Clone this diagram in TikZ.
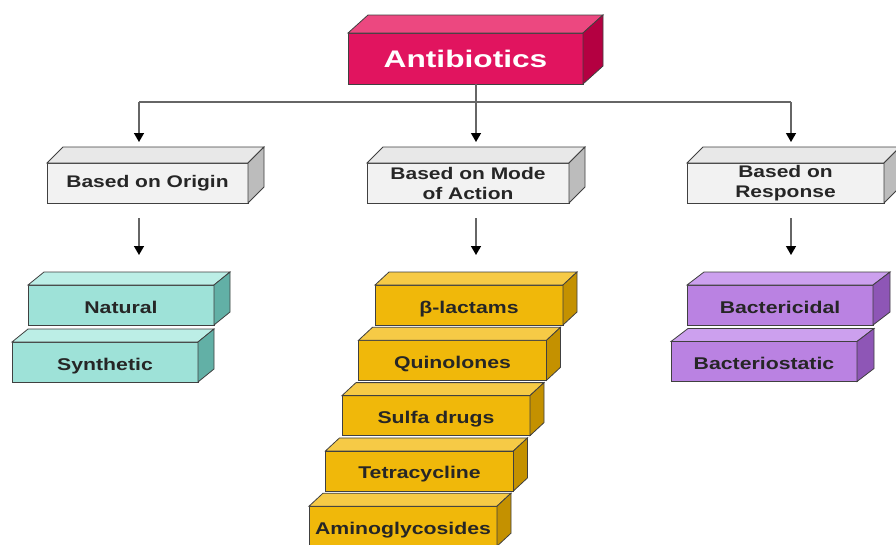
\documentclass[tikz,border=0pt]{standalone}
\usepackage{fontspec}
\usetikzlibrary{arrows.meta}
\newfontfamily\labelfont[FakeStretch=1.25]{Liberation Sans}
\newfontfamily\titlefont[FakeStretch=1.32]{Liberation Sans}

\definecolor{pinkfront}{RGB}{225,20,95}
\definecolor{pinktop}{RGB}{236,72,128}
\definecolor{pinkside}{RGB}{180,0,65}
\definecolor{greyfront}{RGB}{242,242,242}
\definecolor{greytop}{RGB}{232,232,232}
\definecolor{greyside}{RGB}{188,188,188}
\definecolor{tealfront}{RGB}{158,226,216}
\definecolor{tealtop}{RGB}{188,238,230}
\definecolor{tealside}{RGB}{98,176,166}
\definecolor{goldfront}{RGB}{240,184,10}
\definecolor{goldtop}{RGB}{246,202,70}
\definecolor{goldside}{RGB}{196,145,0}
\definecolor{violetfront}{RGB}{186,130,226}
\definecolor{violettop}{RGB}{204,160,238}
\definecolor{violetside}{RGB}{142,86,182}

\tikzset{
    edge/.style={draw=black!75, line width=0.8pt},
    face/.style={edge, inner sep=0pt, outer sep=0pt, text=black!85,
        font=\labelfont\bfseries\fontsize{17}{20}\selectfont},
    stepbox/.style={face, text height=16pt, text depth=0pt},
    wire/.style={draw=black!60, line width=1.4pt},
    arr/.style={-{Triangle[width=10pt,length=9pt,color=black]}}
}

% top and side faces of a slab: node, depth x, depth y, top colour, side colour
\newcommand{\slabfaces}[5]{
    \draw[edge, fill=#4] (#1.north west) -- ++(#2,#3)
        -- ([shift={(#2,#3)}]#1.north east) -- (#1.north east) -- cycle;
    \draw[edge, fill=#5] (#1.north east) -- ++(#2,#3)
        -- ([shift={(#2,#3)}]#1.south east) -- (#1.south east) -- cycle;
}

\begin{document}
\begin{tikzpicture}[x=1pt, y=-1pt]
    \useasboundingbox[fill=white] (0,0) rectangle (896,544);

    % root
    \node[face, fill=pinkfront, minimum width=235pt, minimum height=51pt,
        text=white, font=\titlefont\bfseries\fontsize{24}{28}\selectfont]
        (ab) at (465.5,58.5) {Antibiotics};
    \slabfaces{ab}{20}{-18}{pinktop}{pinkside}

    % categories
    \node[face, fill=greyfront, minimum width=201pt, minimum height=40pt,
        font=\labelfont\bfseries\fontsize{16.8}{20}\selectfont]
        (origin) at (147.5,183) {Based on Origin};
    \slabfaces{origin}{16}{-16}{greytop}{greyside}
    \node[face, fill=greyfront, minimum width=202pt, minimum height=40pt,
        align=center, font=\labelfont\bfseries\fontsize{16.8}{20}\selectfont]
        (mode) at (468,183) {Based on Mode\\of Action};
    \slabfaces{mode}{16}{-16}{greytop}{greyside}
    \node[face, fill=greyfront, minimum width=197pt, minimum height=40pt,
        align=center, font=\labelfont\bfseries\fontsize{16.8}{20}\selectfont]
        (resp) at (785.5,183) {Based on\\Response};
    \slabfaces{resp}{16}{-16}{greytop}{greyside}

    % stacks of steps
    \foreach \name/\txt [count=\i from 0] in {nat/Natural, syn/Synthetic} {
        \node[stepbox, fill=tealfront, minimum width=186pt, minimum height=40pt]
            (\name) at (121 - 16*\i, 305 + 57*\i) {\txt};
        \slabfaces{\name}{16}{-13}{tealtop}{tealside}
    }
    \foreach \name/\txt [count=\i from 0] in
        {bl/β-lactams, qu/Quinolones, su/Sulfa drugs, te/Tetracycline,
         am/Aminoglycosides} {
        \node[stepbox, fill=goldfront, minimum width=188pt, minimum height=40pt]
            (\name) at (469 - 16.5*\i, 305 + 55.3*\i) {\txt};
        \slabfaces{\name}{14}{-13}{goldtop}{goldside}
    }
    \foreach \name/\txt [count=\i from 0] in {bc/Bactericidal, bs/Bacteriostatic} {
        \node[stepbox, fill=violetfront, minimum width=186pt, minimum height=40pt]
            (\name) at (780 - 16*\i, 305 + 56.5*\i) {\txt};
        \slabfaces{\name}{17}{-13}{violettop}{violetside}
    }

    % connectors
    \coordinate (jl) at (139,102);
    \coordinate (jm) at (476,102);
    \coordinate (jr) at (791,102);
    \draw[wire] (jm |- ab.south) -- (jm);
    \draw[wire] (jl) -- (jr);
    \foreach \j/\n in {jl/origin, jm/mode, jr/resp}
        \draw[wire, arr, shorten >=21pt] (\j) -- (\j |- \n.north);
    \foreach \j/\n/\m in {jl/origin/nat, jm/mode/bl, jr/resp/bc}
        \draw[wire, arr, shorten <=15pt, shorten >=30pt]
            (\j |- \n.south) -- (\j |- \m.north);
\end{tikzpicture}
\end{document}
